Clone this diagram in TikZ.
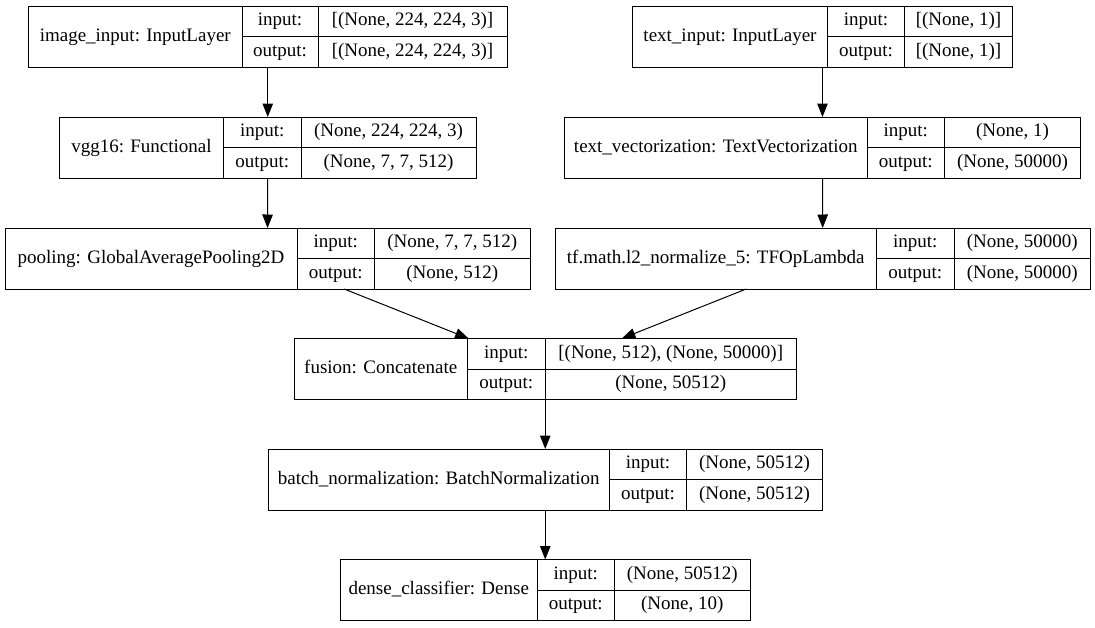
\documentclass[tikz,border=0pt]{standalone}
\usepackage{fontspec}
\setmainfont{Liberation Serif}
\usetikzlibrary{fit,arrows.meta}
\tikzset{
  layerbox/.style={draw=black, line width=1pt, inner sep=0pt, outer sep=0pt},
  celltext/.style={inner sep=0pt, text height=13pt, text depth=4pt, font=\fontsize{19}{22}\selectfont},
  cellline/.style={draw=black, line width=1pt},
  arr/.style={draw=black, line width=1pt, -{Triangle[length=13.5pt,width=10.5pt]}}
}
% #1 name, #2 x1, #3 d1, #4 d2, #5 x2, #6 ytop, #7 label, #8 input, #9 output
\newcommand\kerasLayer[9]{%
  \node[layerbox, fit={(#2,#6) ({#5},{#6+61})}] (#1) {};
  \draw[cellline] (#3,#6) -- (#3,{#6+61});
  \draw[cellline] (#4,#6) -- (#4,{#6+61});
  \draw[cellline] (#3,{#6+30.5}) -- (#5,{#6+30.5});
  \node[celltext] (#1-l) at ({(#2+#3)/2},{#6+30.5}) {#7};
  \node[celltext] (#1-ik) at ({(#3+#4)/2},{#6+15.25}) {input:};
  \node[celltext] (#1-ok) at ({(#3+#4)/2},{#6+45.75}) {output:};
  \node[celltext] (#1-iv) at ({(#4+#5)/2},{#6+15.25}) {#8};
  \node[celltext] (#1-ov) at ({(#4+#5)/2},{#6+45.75}) {#9};
}
\begin{document}
\begin{tikzpicture}[x=1pt,y=-1pt]
\useasboundingbox[fill=white] (0,0) rectangle (1095,627);
\kerasLayer{img}{28.5}{242}{318}{507}{6}{image\_input: InputLayer}{[(None, 224, 224, 3)]}{[(None, 224, 224, 3)]}
\kerasLayer{txt}{632.5}{827.5}{904.5}{1012.5}{6}{text\_input: InputLayer}{[(None, 1)]}{[(None, 1)]}
\kerasLayer{vgg}{59.5}{223.5}{301}{476}{117}{vgg16: Functional}{(None, 224, 224, 3)}{(None, 7, 7, 512)}
\kerasLayer{vec}{564.5}{867}{944.5}{1080.5}{117}{text\_vectorization: TextVectorization}{(None, 1)}{(None, 50000)}
\kerasLayer{pool}{5}{297}{374.5}{530}{228}{pooling: GlobalAveragePooling2D}{(None, 7, 7, 512)}{(None, 512)}
\kerasLayer{norm}{555}{876.5}{954}{1090.5}{228}{tf.math.l2\_normalize\_5: TFOpLambda}{(None, 50000)}{(None, 50000)}
\kerasLayer{fus}{294}{467.5}{545}{796.5}{338.5}{fusion: Concatenate}{[(None, 512), (None, 50000)]}{(None, 50512)}
\kerasLayer{bn}{268}{609.5}{686.5}{822.5}{449}{batch\_normalization: BatchNormalization}{(None, 50512)}{(None, 50512)}
\kerasLayer{dense}{340}{537.5}{614}{750.5}{559.5}{dense\_classifier: Dense}{(None, 50512)}{(None, 10)}
\draw[arr] (img) -- (vgg);
\draw[arr] (vgg) -- (pool);
\draw[arr] (txt) -- (vec);
\draw[arr] (vec) -- (norm);
\draw[arr] (pool) -- (fus);
\draw[arr] (norm) -- (fus);
\draw[arr] (fus) -- (bn);
\draw[arr] (bn) -- (dense);
\end{tikzpicture}
\end{document}
